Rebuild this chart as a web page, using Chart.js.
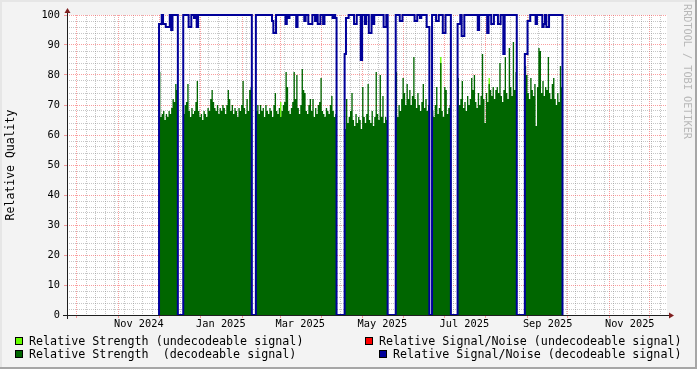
<!DOCTYPE html>
<html>
<head>
<meta charset="utf-8">
<script src="https://cdn.jsdelivr.net/npm/chart.js@4.4.1/dist/chart.umd.min.js"></script>
<style>
  html, body { margin: 0; padding: 0; background: #f3f3f3; }
  #wrap { position: relative; width: 697px; height: 369px; overflow: hidden; }
  #c { position: absolute; left: 0; top: 0; }
  .shade { position: absolute; }
  .lg { position: absolute; font-family: "DejaVu Sans Mono", monospace; font-size: 11.7px; line-height: 14px; white-space: pre; color: #000; }
  .box { position: absolute; width: 6px; height: 6px; border: 1px solid #000; }
  #wm { position: absolute; left: 681px; top: 4px; writing-mode: vertical-rl; font-family: "DejaVu Sans Mono", monospace; font-size: 10.2px; line-height: 12px; color: #b8b8b8; white-space: pre; }
</style>
</head>
<body>
<div id="wrap">
  <canvas id="c" width="697" height="369"></canvas>
  <div class="shade" style="left:0;top:0;width:697px;height:2px;background:#e6e6e6"></div>
  <div class="shade" style="left:0;top:0;width:2px;height:369px;background:#e6e6e6"></div>
  <div class="shade" style="left:695px;top:0;width:2px;height:369px;background:#a6a6a6"></div>
  <div class="shade" style="left:0;top:367px;width:697px;height:2px;background:#a6a6a6"></div>

  <div class="box" style="left:15px;top:337px;background:#66ff00"></div>
  <div class="lg" style="left:29px;top:334px">Relative Strength (undecodeable signal)</div>
  <div class="box" style="left:365px;top:337px;background:#ff0000"></div>
  <div class="lg" style="left:379px;top:334px">Relative Signal/Noise (undecodeable signal)</div>
  <div class="box" style="left:15px;top:350px;background:#006600"></div>
  <div class="lg" style="left:29px;top:347px">Relative Strength  (decodeable signal)</div>
  <div class="box" style="left:379px;top:350px;background:#000099"></div>
  <div class="lg" style="left:393px;top:347px">Relative Signal/Noise (decodeable signal)</div>

  <div id="wm">RRDTOOL / TOBI OETIKER</div>
</div>
<script>
// x values are days counted from 1 Oct 2024
const monthStarts = [0, 31, 61, 92, 123, 151, 182, 212, 243, 273, 304, 335, 365, 396, 426];
const labelDays = [46, 107, 166, 227, 288, 350, 411];
const labelText = ['Nov 2024', 'Jan 2025', 'Mar 2025', 'May 2025', 'Jul 2025', 'Sep 2025', 'Nov 2025'];

// days where each run of data starts
const segStart = [61, 79, 133, 199, 237, 264, 283, 333];

// Relative Strength (decodeable), one value per day
const strength = [
  [81, 66, 67, 68, 65, 67, 66, 68, 67, 69, 72, 71, 77, 75],
  [67, 70, 71, 77, 68, 66, 69, 67, 68, 71, 78, 68, 66, 67, 65, 68, 67, 66, 69, 68,
   72, 75, 71, 69, 68, 70, 67, 69, 68, 70, 69, 67, 70, 75, 72, 68, 70, 67, 69, 68,
   66, 69, 68, 70, 78, 69, 67, 72, 68, 75, 76],
  [68, 70, 67, 70, 68, 69, 66, 70, 68, 67, 69, 68, 66, 70, 74, 68, 67, 69, 66, 68,
   70, 71, 81, 76, 68, 67, 69, 71, 81, 72, 80, 69, 67, 70, 82, 75, 74, 68, 67, 70,
   72, 68, 72, 66, 69, 67, 70, 71, 79, 68, 67, 66, 69, 68, 67, 70, 73, 68, 66, 67],
  [62, 72, 64, 66, 68, 74, 65, 63, 67, 64, 66, 65, 62, 76, 66, 64, 67, 77, 65, 64,
   68, 63, 66, 81, 67, 65, 80, 66, 73, 64, 66, 65],
  [81, 66, 70, 68, 72, 79, 74, 70, 77, 72, 75, 70, 73, 86, 72, 69, 74, 70, 68, 71,
   77, 69, 72, 68, 70],
  [68, 66, 70, 76, 67, 69, 84, 68, 66, 76, 75, 67, 69, 70],
  [79, 70, 72, 78, 69, 71, 68, 73, 70, 72, 79, 75, 80, 71, 69, 74, 70, 73, 87, 72,
   64, 74, 71, 77, 75, 73, 76, 72, 75, 76, 74, 84, 73, 71, 75, 86, 74, 72, 89, 76,
   73, 91, 75, 81],
  [83, 80, 74, 72, 79, 75, 73, 77, 63, 76, 89, 88, 74, 78, 73, 76, 75, 86, 74, 72,
   77, 79, 72, 70, 74, 71, 83, 76]
];

// Relative Signal/Noise (decodeable), one value per day
const snr = [
  [97, 97, 100, 97, 97, 96, 96, 96, 100, 95, 100, 100, 100, 100],
  [100, 100, 100, 100, 96, 96, 100, 100, 99, 100, 96, 100, 100, 100, 100, 100, 100, 100, 100, 100,
   100, 100, 100, 100, 100, 100, 100, 100, 100, 100, 100, 100, 100, 100, 100, 100, 100, 100, 100, 100,
   100, 100, 100, 100, 100, 100, 100, 100, 100, 100, 100],
  [100, 100, 100, 100, 100, 100, 100, 100, 100, 100, 100, 100, 98, 94, 94, 100, 100, 100, 100, 100,
   100, 100, 97, 100, 99, 100, 100, 100, 100, 100, 96, 100, 100, 100, 100, 100, 98, 100, 100, 97,
   97, 97, 100, 100, 98, 100, 97, 97, 100, 100, 97, 100, 100, 100, 100, 100, 100, 99, 100, 99],
  [87, 99, 99, 100, 100, 100, 100, 97, 97, 100, 100, 100, 85, 100, 100, 97, 100, 100, 94, 94,
   100, 97, 100, 100, 100, 100, 100, 100, 100, 96, 96, 100],
  [100, 100, 100, 98, 98, 100, 100, 100, 100, 100, 100, 100, 100, 100, 98, 98, 100, 100, 99, 100,
   100, 100, 100, 96, 96],
  [100, 100, 100, 98, 98, 100, 100, 100, 94, 94, 100, 100, 100, 100],
  [97, 97, 100, 93, 93, 100, 100, 100, 100, 100, 100, 100, 100, 100, 100, 95, 100, 100, 100, 100,
   100, 100, 94, 100, 100, 97, 97, 100, 100, 100, 97, 97, 100, 100, 87, 100, 100, 100, 100, 100,
   100, 100, 100, 100],
  [87, 87, 98, 98, 100, 100, 100, 100, 97, 100, 100, 100, 100, 96, 97, 100, 96, 96, 100, 100,
   100, 100, 100, 100, 100, 100, 100, 100]
];

// Relative Strength (undecodeable), the few days where it shows
const weakDays = [151, 270, 306];
const weakVals = [71, 86, 79];

const X_MIN = -7.43, X_MAX = 438.7;

// step series: each value covers its whole day, drops to 0 between runs
function stepPoints(starts, runs) {
  const pts = [];
  starts.forEach((s, i) => {
    pts.push({ x: s - 0.5, y: 0 });
    runs[i].forEach((v, j) => pts.push({ x: s + j + 0.5, y: v }));
    pts.push({ x: s + runs[i].length + 0.5, y: 0 });
  });
  return pts;
}

const snrPts = stepPoints(segStart, snr);
const strengthPts = stepPoints(segStart, strength);
const weakPts = stepPoints(weakDays, weakVals.map(v => [v]));

// x grid: weekly minor lines, monthly major lines, labels mid-month
const xKind = {};
for (let d = -7; d <= X_MAX; d += 7) xKind[d] = 'week';
monthStarts.forEach(d => { xKind[d] = 'month'; });
labelDays.forEach(d => { xKind[d] = 'label'; });

const MINOR = 'rgba(128,128,128,0.45)';
const MAJOR = 'rgba(245,79,79,0.55)';
const tickFont = { family: 'DejaVu Sans Mono', size: 10.3 };

const canvasPlugin = {
  id: 'rrdFrame',
  beforeDraw(chart) {
    const { ctx, chartArea: a } = chart;
    ctx.save();
    ctx.fillStyle = '#ffffff';
    ctx.fillRect(a.left, a.top, a.right - a.left, a.bottom - a.top);
    ctx.restore();
  },
  afterDraw(chart) {
    const { ctx, chartArea: a } = chart;
    const x0 = Math.round(a.left) + 0.5, y0 = Math.round(a.bottom) + 0.5;
    ctx.save();
    ctx.strokeStyle = '#1f1f1f';
    ctx.lineWidth = 1;
    ctx.beginPath();
    ctx.moveTo(a.left - 4, y0); ctx.lineTo(a.right + 4, y0);
    ctx.moveTo(x0, a.bottom + 4); ctx.lineTo(x0, a.top - 4);
    ctx.stroke();
    ctx.fillStyle = '#7f1f1f';
    ctx.beginPath();
    ctx.moveTo(a.right + 2, y0 - 3); ctx.lineTo(a.right + 7, y0); ctx.lineTo(a.right + 2, y0 + 3);
    ctx.fill();
    ctx.beginPath();
    ctx.moveTo(x0 - 3, a.top - 2); ctx.lineTo(x0, a.top - 7); ctx.lineTo(x0 + 3, a.top - 2);
    ctx.fill();
    ctx.restore();
  }
};

new Chart(document.getElementById('c'), {
  type: 'line',
  data: {
    datasets: [{
      label: 'Relative Signal/Noise (decodeable signal)',
      data: snrPts,
      stepped: 'middle',
      borderColor: '#000099',
      borderWidth: 2,
      pointRadius: 0,
      fill: false,
      clip: { left: 1, right: 1, top: 2, bottom: 0 },
      order: 0
    }, {
      label: 'Relative Strength  (decodeable signal)',
      data: strengthPts,
      stepped: 'middle',
      borderWidth: 0,
      borderColor: 'rgba(0,0,0,0)',
      backgroundColor: '#006600',
      pointRadius: 0,
      fill: 'origin',
      order: 1
    }, {
      label: 'Relative Strength (undecodeable signal)',
      data: weakPts,
      stepped: 'middle',
      borderWidth: 0,
      borderColor: 'rgba(0,0,0,0)',
      backgroundColor: '#66ff00',
      pointRadius: 0,
      fill: 'origin',
      order: 2
    }]
  },
  options: {
    responsive: false,
    animation: false,
    devicePixelRatio: 1,
    layout: { padding: { left: 0, top: 15, right: 30, bottom: 34 } },
    plugins: { legend: { display: false }, tooltip: { enabled: false } },
    scales: {
      x: {
        type: 'linear',
        min: X_MIN,
        max: X_MAX,
        afterBuildTicks(scale) {
          scale.ticks = Object.keys(xKind).map(Number).sort((a, b) => a - b).map(v => ({ value: v }));
        },
        afterFit(scale) { scale.height = 20; },
        ticks: {
          autoSkip: false,
          maxRotation: 0,
          padding: 0,
          color: '#000',
          font: tickFont,
          callback(v) {
            const i = labelDays.indexOf(v);
            return i >= 0 ? labelText[i] : '';
          }
        },
        grid: {
          color: c => xKind[c.tick.value] === 'month' ? MAJOR : (xKind[c.tick.value] === 'week' ? MINOR : 'rgba(0,0,0,0)'),
          tickColor: c => xKind[c.tick.value] === 'month' ? MAJOR : 'rgba(0,0,0,0)',
          tickLength: 3,
          lineWidth: 1
        },
        border: { display: false, dash: [1, 1] }
      },
      y: {
        min: 0,
        max: 100,
        afterFit(scale) { scale.width = 67; },
        ticks: {
          stepSize: 2,
          autoSkip: false,
          padding: 4,
          color: '#000',
          font: tickFont,
          callback: v => (v % 10 === 0 ? String(v) : '')
        },
        grid: {
          color: c => c.tick.value % 10 === 0 ? MAJOR : MINOR,
          tickColor: c => c.tick.value % 10 === 0 ? MAJOR : 'rgba(0,0,0,0)',
          tickLength: 3,
          lineWidth: 1
        },
        border: { display: false, dash: [1, 1] },
        title: {
          display: true,
          text: 'Relative Quality',
          color: '#000',
          padding: { top: 4, bottom: 0 },
          font: { family: 'DejaVu Sans Mono', size: 11.5 }
        }
      }
    }
  },
  plugins: [canvasPlugin]
});
</script>
</body>
</html>
